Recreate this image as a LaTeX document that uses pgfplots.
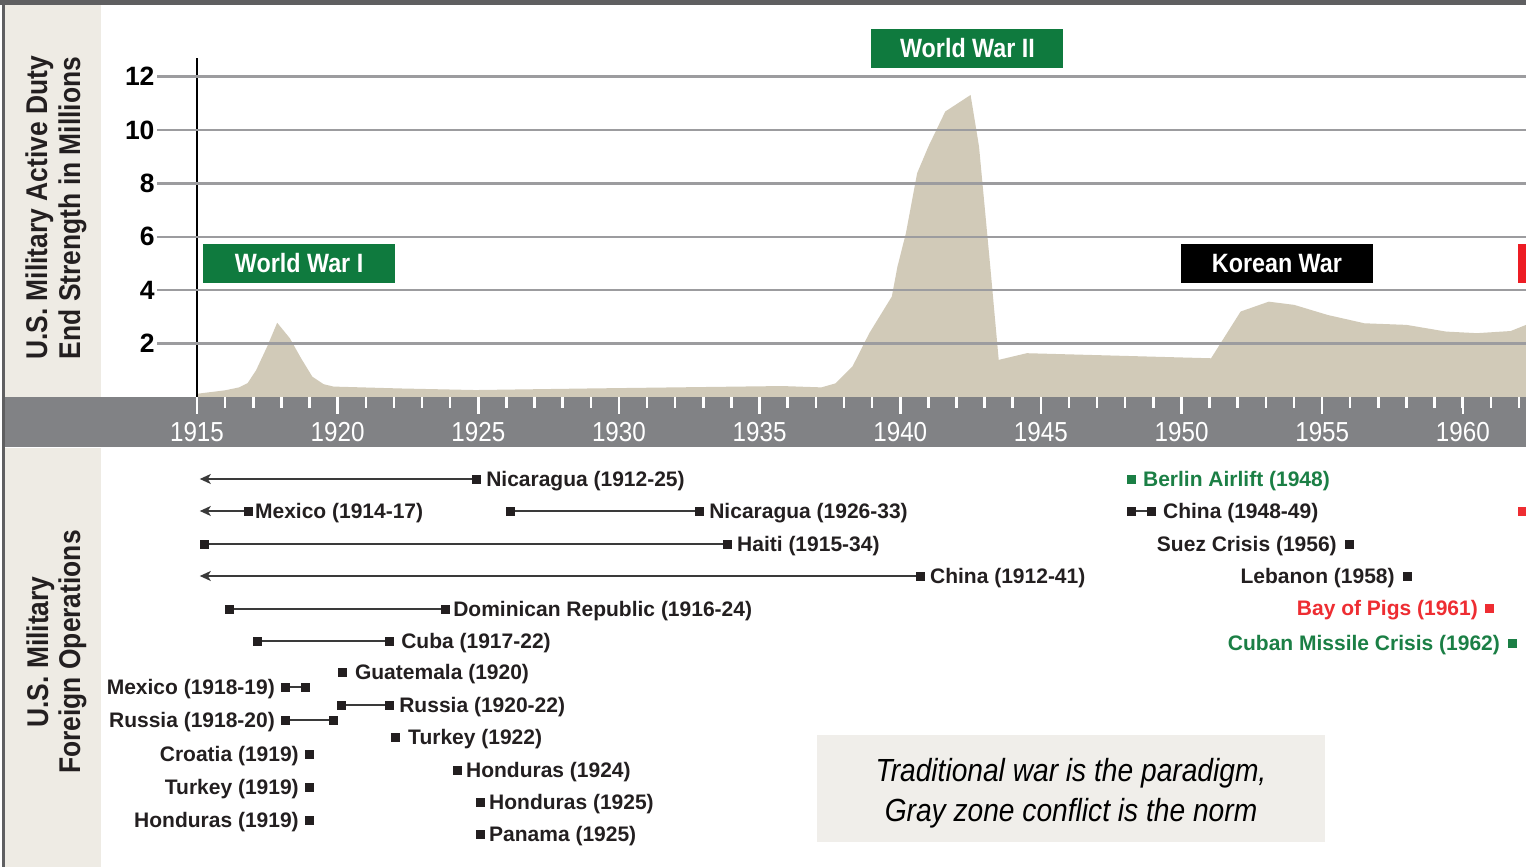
\documentclass[border=0pt]{standalone}
\usepackage{fontspec}
\setmainfont{Liberation Sans}
\newfontfamily\cond{Liberation Sans}[FakeStretch=0.88]
\usepackage{pgfplots}
\pgfplotsset{compat=1.18}
\usetikzlibrary{arrows.meta}
\definecolor{beige}{HTML}{EEEBE4}
\definecolor{areac}{HTML}{D1CAB8}
\definecolor{band}{HTML}{818285}
\definecolor{topbar}{HTML}{5F5F61}
\definecolor{gridc}{HTML}{9C9C9F}
\definecolor{wgreen}{HTML}{0F7A3E}
\definecolor{wred}{HTML}{ED1C24}
\definecolor{txt}{HTML}{231F20}
\definecolor{tgreen}{HTML}{1B7F45}
\definecolor{tred}{HTML}{EE2D32}
\definecolor{quotec}{HTML}{F0EEEA}
\definecolor{opline}{HTML}{3A3A3A}
\newcommand\opfont{\fontsize{21}{22}\selectfont\bfseries}
\tikzset{
  lw/.style={anchor=base west, inner sep=0pt, yshift=-7.5pt, font=\opfont, text=txt},
  le/.style={anchor=base east, inner sep=0pt, yshift=-7.5pt, font=\opfont, text=txt},
  wbox/.style={inner sep=0pt, minimum width=192pt, minimum height=39pt, text=white,
    font={\cond\bfseries\fontsize{26.5}{28}\selectfont}},
}
\pgfplotsset{
  opl/.style={color=opline, line width=1.6pt, no marks},
  opa/.style={color=opline, line width=1.6pt, no marks, {Stealth[length=11pt,width=10pt,inset=3pt]}-},
  opm/.style={only marks, mark=square*, mark size=3.8pt, color=#1, mark options={solid, fill=#1, draw=#1, line width=0.1pt}},
  opm/.default=txt,
}
\pgfplotstableread{
year val
1915.0 0.12
1916.0 0.25
1916.5 0.36
1916.8 0.52
1917.1 1.0
1917.5 1.9
1917.85 2.78
1918.3 2.2
1918.7 1.45
1919.1 0.76
1919.5 0.48
1919.85 0.39
1922.2 0.32
1924.9 0.26
1929.0 0.32
1935.8 0.41
1937.2 0.36
1937.7 0.51
1938.3 1.14
1938.9 2.39
1939.7 3.76
1939.9 4.88
1940.2 6.13
1940.6 8.38
1941.0 9.38
1941.6 10.69
1942.5 11.31
1942.8 9.38
1943.2 4.88
1943.5 1.39
1944.5 1.64
1951.05 1.45
1952.1 3.2
1953.1 3.57
1954.0 3.45
1955.2 3.07
1956.5 2.76
1958.0 2.70
1959.4 2.45
1960.5 2.39
1961.7 2.47
1962.245 2.70
}\strength
\begin{document}
\begin{tikzpicture}[x=1pt,y=1pt]
\useasboundingbox (0,0) rectangle (1526,867);
\fill[white] (0,0) rectangle (1526,867);
\fill[beige] (5,470) rectangle (101,862);
\fill[beige] (5,0) rectangle (101,419);
\fill[band] (5,420) rectangle (1526,470);
\fill[topbar] (0,862) rectangle (1526,867);
\fill[topbar] (2,0) rectangle (5,867);
% left titles
\node[rotate=90, anchor=base, inner sep=0pt, font={\cond\bfseries\fontsize{30}{32}\selectfont}, text=txt] at (47,659) {U.S. Military Active Duty};
\node[rotate=90, anchor=base, inner sep=0pt, font={\cond\bfseries\fontsize{30}{32}\selectfont}, text=txt] at (80,659) {End Strength in Millions};
\node[rotate=90, anchor=base, inner sep=0pt, font={\cond\bfseries\fontsize{30}{32}\selectfont}, text=txt] at (48,215) {U.S. Military};
\node[rotate=90, anchor=base, inner sep=0pt, font={\cond\bfseries\fontsize{30}{32}\selectfont}, text=txt] at (80,215) {Foreign Operations};
% quote box
\fill[quotec] (817,25) rectangle (1325,132);
\node[anchor=base, inner sep=0pt, font={\cond\itshape\fontsize{32}{36}\selectfont}, text=black] at (1071,85) {Traditional war is the paradigm,};
\node[anchor=base, inner sep=0pt, font={\cond\itshape\fontsize{32}{36}\selectfont}, text=black] at (1071,45) {Gray zone conflict is the norm};

\begin{axis}[
  at={(157pt,470pt)}, anchor=south west, scale only axis,
  width=1369pt, height=392pt,
  xmin=1913.578, xmax=1962.245, ymin=0, ymax=14.68,
  axis line style={draw=none}, clip=false, axis on top,
  ytick={2,4,...,12}, ymajorgrids, grid style={gridc, line width=2.5pt},
  xtick={1915,1920,...,1960}, minor xtick={1916,...,1962},
  xtick pos=bottom, ytick pos=left,
  tick align=outside,
  major tick length=17pt, minor tick length=11pt,
  xtick style={white, line width=2.5pt},
  ytick style={draw=none},
  /pgf/number format/assume math mode=true,
  /pgf/number format/1000 sep={},
  yticklabel style={font={\bfseries\fontsize{26.5}{28}\selectfont}, text=black, anchor=east, xshift=18pt},
  xticklabel style={font={\cond\fontsize{27.5}{28}\selectfont}, text=white, anchor=center, yshift=-18pt},
]
\addplot[fill=areac, draw=none] table[x=year, y=val] {\strength} \closedcycle;
\draw[black, line width=2.5pt] (axis cs:1915,0) -- (axis cs:1915,12.7);
\node[wbox, fill=wgreen] at (axis cs:1918.63,5.0) {World War I};
\node[wbox, fill=wgreen] at (axis cs:1942.39,13.05) {World War II};
\node[wbox, fill=black] at (axis cs:1953.39,5.0) {Korean War};
\fill[wred] (axis cs:1961.96,4.27) rectangle (axis cs:1962.245,5.73);
\end{axis}

\begin{axis}[
  at={(157pt,0pt)}, anchor=south west, scale only axis,
  width=1369pt, height=419pt,
  xmin=1913.578, xmax=1962.245, ymin=448, ymax=867, y dir=reverse,
  hide axis, clip=false,
]
% lines
\addplot[opa] coordinates {(1915.1,479) (1924.92,479)};
\addplot[opa] coordinates {(1915.1,511) (1916.81,511)};
\addplot[opl] coordinates {(1926.13,511) (1932.85,511)};
\addplot[opl] coordinates {(1915.25,544) (1933.84,544)};
\addplot[opa] coordinates {(1915.1,576) (1940.70,576)};
\addplot[opl] coordinates {(1916.14,609) (1923.82,609)};
\addplot[opl] coordinates {(1917.13,641) (1921.83,641)};
\addplot[opl] coordinates {(1918.13,687) (1918.84,687)};
\addplot[opl] coordinates {(1920.12,705) (1921.83,705)};
\addplot[opl] coordinates {(1918.13,720) (1919.83,720)};
\addplot[opl] coordinates {(1948.20,511) (1948.91,511)};
% marks
\addplot[opm] coordinates {
 (1924.92,479) (1916.81,511) (1926.13,511) (1932.85,511)
 (1915.25,544) (1933.84,544) (1940.70,576)
 (1916.14,609) (1923.82,609) (1917.13,641) (1921.83,641)
 (1920.15,672) (1918.13,687) (1918.84,687)
 (1920.12,705) (1921.83,705) (1918.13,720) (1919.83,720)
 (1922.04,737) (1918.98,754) (1924.24,770) (1918.98,787)
 (1925.06,802) (1918.98,820) (1925.06,834)
 (1948.20,511) (1948.91,511) (1955.95,544) (1958.01,576)
};
\addplot[opm=tgreen] coordinates {(1948.20,479) (1961.75,643)};
\addplot[opm=tred] coordinates {(1960.93,608) (1962.10,511)};
% labels
\node[lw, xshift=10pt] at (axis cs:1924.92,479) {Nicaragua (1912-25)};
\node[lw, xshift=7pt] at (axis cs:1916.81,511) {Mexico (1914-17)};
\node[lw, xshift=10pt] at (axis cs:1932.85,511) {Nicaragua (1926-33)};
\node[lw, xshift=10pt] at (axis cs:1933.84,544) {Haiti (1915-34)};
\node[lw, xshift=10pt] at (axis cs:1940.70,576) {China (1912-41)};
\node[lw, xshift=8pt] at (axis cs:1923.82,609) {Dominican Republic (1916-24)};
\node[lw, xshift=12pt] at (axis cs:1921.83,641) {Cuba (1917-22)};
\node[lw, xshift=13pt] at (axis cs:1920.15,672) {Guatemala (1920)};
\node[le, xshift=-10pt] at (axis cs:1918.13,687) {Mexico (1918-19)};
\node[lw, xshift=10pt] at (axis cs:1921.83,705) {Russia (1920-22)};
\node[le, xshift=-10pt] at (axis cs:1918.13,720) {Russia (1918-20)};
\node[lw, xshift=13pt] at (axis cs:1922.04,737) {Turkey (1922)};
\node[le, xshift=-10pt] at (axis cs:1918.98,754) {Croatia (1919)};
\node[lw, xshift=9pt] at (axis cs:1924.24,770) {Honduras (1924)};
\node[le, xshift=-10pt] at (axis cs:1918.98,787) {Turkey (1919)};
\node[lw, xshift=9pt] at (axis cs:1925.06,802) {Honduras (1925)};
\node[le, xshift=-10pt] at (axis cs:1918.98,820) {Honduras (1919)};
\node[lw, xshift=9pt] at (axis cs:1925.06,834) {Panama (1925)};
\node[lw, xshift=12pt, text=tgreen] at (axis cs:1948.20,479) {Berlin Airlift (1948)};
\node[lw, xshift=12pt] at (axis cs:1948.91,511) {China (1948-49)};
\node[le, xshift=-12pt] at (axis cs:1955.95,544) {Suez Crisis (1956)};
\node[le, xshift=-12pt] at (axis cs:1958.01,576) {Lebanon (1958)};
\node[le, xshift=-11pt, text=tred] at (axis cs:1960.93,608) {Bay of Pigs (1961)};
\node[le, xshift=-12pt, text=tgreen] at (axis cs:1961.75,643) {Cuban Missile Crisis (1962)};
\end{axis}
\end{tikzpicture}
\end{document}
